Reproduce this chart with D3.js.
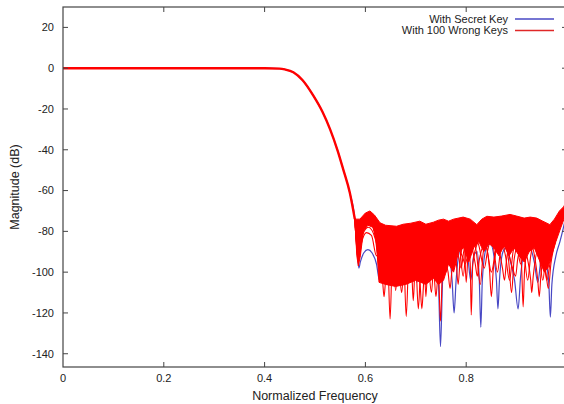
<!DOCTYPE html>
<html>
<head>
<meta charset="utf-8">
<script src="https://cdn.jsdelivr.net/npm/d3@7"></script>
<style>
  body { margin: 0; background: #fff; }
  text { font-family: "Liberation Sans", Arial, sans-serif; fill: #222; }
</style>
</head>
<body>
<div class="chart"></div>
<script>
// shared passband + transition band, [freq, dB]
let passBand = [[0, 0], [0.40, 0], [0.43, -0.2], [0.44, -0.6], [0.457, -2], [0.475, -5.8],
  [0.497, -13.6], [0.515, -21.5], [0.53, -30], [0.545, -40.5], [0.556, -49.6],
  [0.569, -61], [0.579, -74]];

// stopband of the filter with the secret key
let secretKey = [[0.579, -74], [0.584, -90], [0.587, -98], [0.590, -95], [0.597, -90.5],
  [0.605, -89], [0.613, -90.5], [0.622, -96], [0.628, -104], [0.633, -92], [0.642, -82],
  [0.650, -80], [0.658, -85], [0.664, -102], [0.670, -86], [0.680, -79], [0.690, -81],
  [0.698, -92], [0.702, -105], [0.707, -90], [0.717, -80], [0.727, -78], [0.737, -85],
  [0.745, -105], [0.749, -136.5], [0.753, -105], [0.760, -86], [0.766, -90], [0.772, -104],
  [0.776, -120], [0.780, -104], [0.787, -89], [0.795, -86], [0.803, -92], [0.809, -104],
  [0.815, -92], [0.822, -90], [0.826, -104], [0.829, -127], [0.832, -104], [0.840, -88],
  [0.848, -86], [0.856, -94], [0.860, -104], [0.863, -118], [0.866, -104], [0.873, -90],
  [0.880, -88], [0.888, -95], [0.896, -104], [0.903, -118], [0.908, -102], [0.915, -90],
  [0.925, -87], [0.935, -95], [0.942, -105], [0.950, -92], [0.958, -95], [0.964, -106],
  [0.967, -122], [0.970, -106], [0.978, -92], [0.986, -85], [0.993, -78], [1.0, -70]];

// outline of the dense bundle of wrong-key responses
let wrongTop = [[0.579, -74], [0.589, -74], [0.600, -71], [0.609, -70], [0.618, -72],
  [0.629, -75.8], [0.640, -77], [0.662, -77.5], [0.675, -76.5], [0.690, -76], [0.708, -75],
  [0.720, -76.5], [0.735, -75.5], [0.745, -74.5], [0.755, -74], [0.765, -75], [0.775, -74],
  [0.794, -73], [0.808, -74], [0.821, -76.7], [0.831, -74], [0.841, -72.6], [0.855, -73],
  [0.870, -72.5], [0.887, -71.7], [0.900, -72.5], [0.915, -73.5], [0.927, -73], [0.940, -73.5],
  [0.952, -75], [0.966, -76.7], [0.975, -74], [0.985, -70], [0.993, -68], [1.0, -65]];

let wrongBottom = [[0.579, -74], [0.583, -92], [0.586, -97], [0.590, -92], [0.596, -80],
  [0.605, -77], [0.615, -78], [0.622, -85], [0.627, -105], [0.640, -106], [0.660, -107],
  [0.680, -106], [0.700, -104], [0.720, -106], [0.735, -103], [0.745, -106], [0.755, -104],
  [0.765, -96], [0.775, -100], [0.785, -90], [0.795, -88], [0.805, -95], [0.815, -88],
  [0.825, -85], [0.835, -90], [0.845, -86], [0.855, -88], [0.865, -92], [0.875, -87],
  [0.885, -92], [0.895, -88], [0.905, -92], [0.915, -95], [0.925, -90], [0.935, -88],
  [0.945, -94], [0.955, -100], [0.962, -98], [0.968, -93], [0.978, -85], [0.988, -78], [1.0, -70]];

// a few single wrong-key curves that stick out below the bundle
let wrongA = [[0.579, -74], [0.586, -95], [0.592, -86], [0.602, -80.6], [0.612, -82], [0.622, -92],
  [0.630, -86], [0.640, -80], [0.645, -96], [0.649, -123], [0.653, -96], [0.662, -84], [0.672, -80],
  [0.682, -92], [0.688, -100], [0.695, -88], [0.705, -80], [0.715, -86], [0.722, -98], [0.728, -88],
  [0.738, -82], [0.745, -98], [0.749, -124], [0.753, -98], [0.762, -84], [0.772, -80], [0.782, -88],
  [0.790, -98], [0.795, -90], [0.802, -84], [0.808, -96], [0.810, -121], [0.813, -96], [0.822, -86],
  [0.832, -82], [0.842, -90], [0.850, -100], [0.858, -90], [0.868, -84], [0.878, -92], [0.886, -104],
  [0.893, -90], [0.903, -84], [0.910, -98], [0.913, -117], [0.916, -98], [0.925, -86], [0.935, -82],
  [0.945, -92], [0.952, -104], [0.958, -92], [0.968, -84], [0.980, -78], [0.990, -72], [1.0, -66]];

let wrongB = [[0.579, -74], [0.585, -92], [0.590, -86], [0.598, -78], [0.608, -76], [0.618, -80],
  [0.626, -94], [0.634, -84], [0.644, -78], [0.654, -82], [0.662, -96], [0.668, -86], [0.676, -92],
  [0.681, -121.7], [0.686, -94], [0.694, -86], [0.700, -94], [0.705, -118], [0.710, -96], [0.716, -90],
  [0.720, -112], [0.724, -94], [0.732, -82], [0.742, -80], [0.752, -88], [0.760, -100], [0.766, -88],
  [0.776, -82], [0.786, -86], [0.794, -102], [0.800, -88], [0.810, -82], [0.820, -90], [0.828, -106],
  [0.834, -90], [0.844, -84], [0.854, -88], [0.862, -100], [0.868, -90], [0.876, -86], [0.884, -94],
  [0.890, -110], [0.895, -94], [0.904, -86], [0.914, -90], [0.922, -104], [0.928, -92], [0.938, -84],
  [0.948, -88], [0.958, -100], [0.963, -108], [0.968, -96], [0.978, -84], [0.990, -74], [1.0, -68]];

let wrongC = [[0.579, -74], [0.584, -88], [0.590, -84], [0.600, -76], [0.610, -74], [0.620, -78],
  [0.628, -100], [0.636, -86], [0.646, -80], [0.654, -88], [0.660, -109], [0.666, -90], [0.676, -82],
  [0.686, -90], [0.692, -100], [0.695, -114], [0.698, -100], [0.708, -86], [0.718, -84], [0.728, -92],
  [0.736, -100], [0.740, -112], [0.744, -100], [0.752, -86], [0.762, -80], [0.772, -84], [0.780, -94],
  [0.784, -106], [0.788, -94], [0.796, -86], [0.800, -105], [0.804, -90], [0.814, -82], [0.824, -86],
  [0.836, -98], [0.842, -90], [0.852, -82], [0.862, -86], [0.872, -98], [0.876, -104], [0.880, -94],
  [0.890, -84], [0.900, -86], [0.908, -96], [0.914, -90], [0.924, -84], [0.934, -90], [0.942, -104],
  [0.945, -112], [0.948, -102], [0.956, -88], [0.966, -82], [0.978, -80], [0.990, -73], [1.0, -67]];

let wrongD = [[0.579, -74], [0.586, -90], [0.594, -82], [0.606, -78], [0.620, -84], [0.630, -96],
  [0.634, -104], [0.637, -112], [0.640, -104], [0.648, -90], [0.658, -86], [0.666, -96], [0.672, -110],
  [0.676, -98], [0.686, -88], [0.698, -94], [0.708, -104], [0.712, -118], [0.716, -104], [0.724, -96],
  [0.731, -110], [0.735, -98], [0.746, -88], [0.758, -94], [0.764, -100], [0.768, -108], [0.772, -98],
  [0.782, -88], [0.792, -92], [0.798, -96], [0.808, -86], [0.818, -96], [0.822, -102], [0.826, -94],
  [0.838, -86], [0.846, -98], [0.850, -112], [0.854, -98], [0.866, -86], [0.880, -88], [0.892, -98],
  [0.898, -102], [0.902, -94], [0.912, -86], [0.922, -94], [0.928, -104], [0.930, -110], [0.933, -102],
  [0.944, -88], [0.954, -94], [0.960, -104], [0.966, -96], [0.978, -82], [0.990, -74], [1.0, -69]];

let xTicks = [0, 0.2, 0.4, 0.6, 0.8];
let yTicks = [-140, -120, -100, -80, -60, -40, -20, 0, 20];
let legendLabels = ["With Secret Key", "With 100 Wrong Keys"];

let svgWidth = 564;
let svgHeight = 404;
let margin = { top: 7, right: -3, bottom: 37, left: 63 };
let width = svgWidth - margin.left - margin.right;
let height = svgHeight - margin.top - margin.bottom;

let blueColor = "#4848c4";
let redColor = "#ff0000";

let svg = d3.select(".chart")
  .append("svg")
  .attr("width", svgWidth)
  .attr("height", svgHeight);

let chartGroup = svg.append("g")
  .attr("transform", `translate(${margin.left}, ${margin.top})`);

let xScale = d3.scaleLinear().domain([0, 1]).range([0, width]);
let yScale = d3.scaleLinear().domain([30, -146.5]).range([0, height]);

chartGroup.append("clipPath")
  .attr("id", "plotClip")
  .append("rect")
  .attr("width", width)
  .attr("height", height);

let plot = chartGroup.append("g").attr("clip-path", "url(#plotClip)");

let line = d3.line()
  .x(d => xScale(d[0]))
  .y(d => yScale(d[1]))
  .curve(d3.curveMonotoneX);

// blue first, red keys drawn over it
plot.append("path")
  .datum(passBand.concat(secretKey.slice(1)))
  .attr("d", line)
  .attr("fill", "none")
  .attr("stroke", blueColor)
  .attr("stroke-width", 1.2);

let bundle = wrongTop.concat(wrongBottom.slice().reverse());
plot.append("path")
  .datum(bundle)
  .attr("d", d3.line().x(d => xScale(d[0])).y(d => yScale(d[1])).curve(d3.curveLinearClosed))
  .attr("fill", redColor)
  .attr("stroke", redColor)
  .attr("stroke-width", 1);

[wrongA, wrongB, wrongC, wrongD].forEach(function(series) {
  plot.append("path")
    .datum(series)
    .attr("d", line)
    .attr("fill", "none")
    .attr("stroke", redColor)
    .attr("stroke-width", 1.1);
});

plot.append("path")
  .datum(passBand)
  .attr("d", line)
  .attr("fill", "none")
  .attr("stroke", redColor)
  .attr("stroke-width", 2.4);

// frame with mirrored ticks
let frameColor = "#444";
chartGroup.append("rect")
  .attr("width", width)
  .attr("height", height)
  .attr("fill", "none")
  .attr("stroke", frameColor)
  .attr("stroke-width", 1.2);

xTicks.forEach(function(t) {
  if (t === 0) return;
  chartGroup.append("line")
    .attr("x1", xScale(t)).attr("x2", xScale(t))
    .attr("y1", height).attr("y2", height - 5)
    .attr("stroke", frameColor);
  chartGroup.append("line")
    .attr("x1", xScale(t)).attr("x2", xScale(t))
    .attr("y1", 0).attr("y2", 5)
    .attr("stroke", frameColor);
});

chartGroup.selectAll(".xlabel")
  .data(xTicks)
  .enter()
  .append("text")
  .attr("x", d => xScale(d))
  .attr("y", height + 15)
  .attr("text-anchor", "middle")
  .style("font-size", "11px")
  .text(d => d);

yTicks.forEach(function(t) {
  chartGroup.append("line")
    .attr("x1", 0).attr("x2", 5)
    .attr("y1", yScale(t)).attr("y2", yScale(t))
    .attr("stroke", frameColor);
  chartGroup.append("line")
    .attr("x1", width).attr("x2", width - 5)
    .attr("y1", yScale(t)).attr("y2", yScale(t))
    .attr("stroke", frameColor);
});

chartGroup.selectAll(".ylabel")
  .data(yTicks)
  .enter()
  .append("text")
  .attr("x", -9)
  .attr("y", d => yScale(d))
  .attr("dy", "0.35em")
  .attr("text-anchor", "end")
  .style("font-size", "11px")
  .text(d => d);

chartGroup.append("text")
  .attr("x", width / 2)
  .attr("y", height + 33)
  .attr("text-anchor", "middle")
  .style("font-size", "12.5px")
  .text("Normalized Frequency");

chartGroup.append("text")
  .attr("transform", "rotate(-90)")
  .attr("x", -height / 2)
  .attr("y", -44)
  .attr("text-anchor", "middle")
  .style("font-size", "12.5px")
  .text("Magnitude (dB)");

// legend
let legendColors = [blueColor, "#e02828"];
legendLabels.forEach(function(label, i) {
  let ly = 12 + i * 11.5;
  chartGroup.append("text")
    .attr("x", 445)
    .attr("y", ly)
    .attr("dy", "0.35em")
    .attr("text-anchor", "end")
    .style("font-size", "11px")
    .text(label);
  chartGroup.append("line")
    .attr("x1", 452).attr("x2", 491)
    .attr("y1", ly).attr("y2", ly)
    .attr("stroke", legendColors[i])
    .attr("stroke-width", 1.3);
});
</script>
</body>
</html>
